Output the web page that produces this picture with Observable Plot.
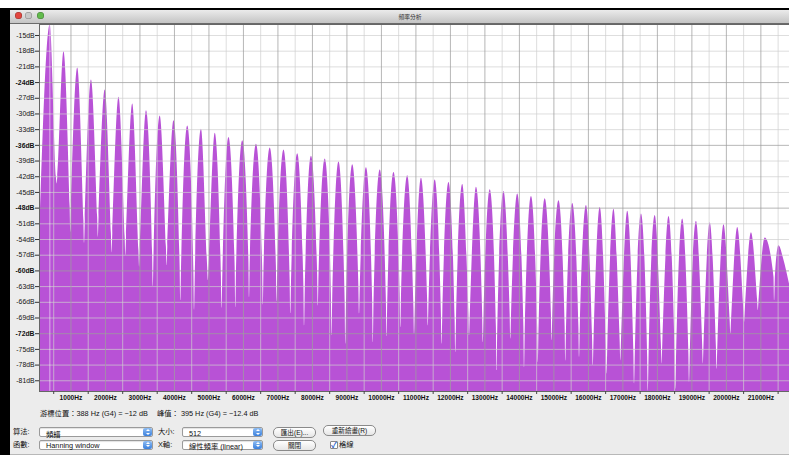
<!DOCTYPE html>
<html>
<head>
<meta charset="utf-8">
<script src="https://cdn.jsdelivr.net/npm/d3@7"></script>
<script src="https://cdn.jsdelivr.net/npm/@observablehq/plot@0.6"></script>
<style>
  html, body { margin:0; padding:0; }
  body { width:789px; height:459px; overflow:hidden; position:relative; background:#fff;
         font-family:"Liberation Sans","Noto Sans CJK TC",sans-serif; color:#111; }
  .abs { position:absolute; }
  #border { left:0; top:8px; width:789px; height:447px; background:#000; }
  #win { left:10px; top:10px; width:779px; height:444px; background:#ececec; border-bottom:1px solid #b8b8b8; }
  #titlebar { left:10px; top:10px; width:779px; height:13px; background:linear-gradient(#ebebeb,#c4c4c4); border-bottom:1px solid #6a6a6a; }
  .light { width:7px; height:7px; border-radius:50%; top:12px; box-shadow: inset 0 0 0 0.5px rgba(0,0,0,0.35); }
  #title { top:12px; left:410px; transform:translateX(-50%); font-size:5.8px; color:#333; white-space:nowrap; font-family:"Noto Sans CJK TC",sans-serif; }
  #chart { left:0; top:23px; }
  .txt { font-size:7.3px; white-space:nowrap; line-height:1; }
  .sel { height:8px; background:#fff; border:1px solid #9a9a9a; border-radius:2px; box-shadow: inset 0 1px 1px rgba(0,0,0,0.12); }
  .sel span { position:absolute; left:6px; top:0.5px; font-size:7.3px; white-space:nowrap; }
  .step { position:absolute; right:0px; top:0px; width:9px; height:8px; border-radius:2px; background:linear-gradient(#8fbef4,#3a7fdc); }
  .up { position:absolute; left:2.5px; top:1px; width:0; height:0; border-left:2px solid transparent; border-right:2px solid transparent; border-bottom:2.3px solid #fff; }
  .dn { position:absolute; left:2.5px; top:4.5px; width:0; height:0; border-left:2px solid transparent; border-right:2px solid transparent; border-top:2.3px solid #fff; }
  .btn { height:9px; border:1px solid #8a8a8a; border-radius:5px; background:linear-gradient(#ffffff,#e6e6e6); font-size:6.6px; text-align:center; line-height:9px; white-space:nowrap; }
  #chk { left:330px; top:441px; width:6px; height:6px; border:1px solid #888; background:#fff; border-radius:1px; }
  #chk span { position:absolute; left:0px; top:-3px; font-size:8px; color:#2b63c6; font-weight:bold; }
</style>
</head>
<body>
<div class="abs" id="border"></div>
<div class="abs" id="win"></div>
<div class="abs" id="titlebar"></div>
<div class="abs light" style="left:15px;background:#e2463f"></div>
<div class="abs light" style="left:25px;background:#c9c9c9"></div>
<div class="abs light" style="left:37px;background:#62bb4c"></div>
<div class="abs" id="title">頻率分析</div>
<div class="abs" id="chart"></div>

<div class="abs txt" style="left:40px;top:409.5px">游標位置：388 Hz (G4) = −12 dB</div>
<div class="abs txt" style="left:157px;top:409.5px">峰值： 395 Hz (G4) = −12.4 dB</div>

<div class="abs txt" style="left:13px;top:428px">算法:</div>
<div class="abs sel" style="left:39px;top:427px;width:112px"><span>頻譜</span><div class="step"><div class="up"></div><div class="dn"></div></div></div>
<div class="abs txt" style="left:158px;top:428px">大小:</div>
<div class="abs sel" style="left:182px;top:427px;width:79px"><span>512</span><div class="step"><div class="up"></div><div class="dn"></div></div></div>
<div class="abs btn" style="left:273px;top:426.5px;width:41px">匯出(E)...</div>
<div class="abs btn" style="left:323px;top:425px;width:51px">重新繪畫(R)</div>

<div class="abs txt" style="left:13px;top:440.5px">函數:</div>
<div class="abs sel" style="left:39px;top:439.5px;width:112px"><span>Hanning window</span><div class="step"><div class="up"></div><div class="dn"></div></div></div>
<div class="abs txt" style="left:158px;top:440.5px">X軸:</div>
<div class="abs sel" style="left:182px;top:439.5px;width:79px"><span>線性頻率 (linear)</span><div class="step"><div class="up"></div><div class="dn"></div></div></div>
<div class="abs btn" style="left:273px;top:440px;width:41px">關閉</div>
<div class="abs" id="chk"><span>✓</span></div>
<div class="abs txt" style="left:339px;top:441px">格線</div>

<script>
// ---- data ----
const peakHz = [399, 797, 1196, 1594, 1993, 2392, 2790, 3189, 3587, 3986,
  4385, 4783, 5182, 5580, 5979, 6378, 6776, 7175, 7573, 7972,
  8371, 8769, 9168, 9566, 9965, 10364, 10762, 11161, 11559, 11958,
  12357, 12755, 13154, 13552, 13951, 14350, 14748, 15147, 15545, 15944,
  16343, 16741, 17140, 17538, 17937, 18336, 18734, 19133, 19531, 19930,
  20329, 20727, 21126, 21524];
const peakDb = [-13.0, -18.1, -21.2, -23.5, -25.4, -26.8, -28.1, -29.4, -30.4, -31.3,
  -32.3, -32.9, -33.7, -34.5, -35.1, -35.8, -36.5, -36.9, -37.6, -38.1,
  -38.6, -39.2, -39.7, -40.3, -40.7, -41.2, -41.8, -42.3, -42.6, -43.1,
  -43.5, -44.0, -44.5, -44.8, -45.3, -45.8, -46.2, -46.6, -47.1, -47.5,
  -47.9, -48.2, -48.6, -49.1, -49.4, -49.6, -50.1, -50.5, -50.8, -51.2,
  -51.7, -52.7, -53.7, -55.2];
const notchHz = [598, 997, 1395, 1794, 2192, 2591, 2990, 3388, 3787, 4185,
  4584, 4983, 5381, 5780, 6178, 6577, 6976, 7374, 7773, 8171,
  8570, 8968, 9367, 9766, 10164, 10563, 10962, 11360, 11759, 12157,
  12556, 12955, 13353, 13752, 14150, 14549, 14948, 15346, 15745, 16143,
  16542, 16940, 17339, 17738, 18136, 18535, 18933, 19332, 19731, 20129,
  20528, 20926, 21400];
const notchDb = [-43.4, -52.6, -54.7, -53.6, -56.6, -57.1, -59.3, -63.0, -59.0, -65.7,
  -67.5, -61.9, -67.1, -67.0, -65.1, -66.5, -65.9, -68.2, -70.5, -66.7,
  -72.4, -74.0, -68.2, -73.7, -72.6, -70.8, -72.1, -70.5, -74.0, -75.6,
  -72.4, -73.7, -79.1, -73.0, -78.5, -77.5, -73.3, -77.2, -76.5, -78.1,
  -79.7, -77.2, -81.6, -83.0, -77.8, -82.6, -81.3, -77.8, -78.8, -72.1,
  -69.8, -67.6, -65.7];
const shoulderDb = [-42.1, -47.8, -50.4, -49.8, -52.9, -53.6, -56.1, -56.8, -55.5, -59.3,
  -60.6, -59.3, -61.0, -59.3, -58.0, -59.3, -59.3, -61.9, -63.1, -60.6,
  -64.4, -65.7, -63.1, -65.7, -65.7, -64.4, -67.0, -65.7, -68.3, -69.5,
  -68.3, -68.3, -70.8, -68.3, -70.8, -70.8, -68.3, -70.8, -70.8, -73.3,
  -74.6, -73.3, -75.9, -76.5, -74.0, -76.5, -75.9, -74.0, -74.6, -69.5,
  -67.6, -65.7, -61.2];
const leftEdgeHz = [88];
const leftEdgeDb = [-55.5];
const rightTailHz = [21660, 21830];
const rightTailDb = [-57.7, -62.5];
const cursorHz = [388];

const yTicks = [-15, -18, -21, -24, -27, -30, -33, -36, -39, -42, -45, -48, -51, -54,
  -57, -60, -63, -66, -69, -72, -75, -78, -81];
const yMajor = [-24, -36, -48, -60, -72];
const xMajor = [1000, 2000, 3000, 4000, 5000, 6000, 7000, 8000, 9000, 10000, 11000,
  12000, 13000, 14000, 15000, 16000, 17000, 18000, 19000, 20000, 21000];
const xMinor = [500, 1500, 2500, 3500, 4500, 5500, 6500, 7500, 8500, 9500, 10500,
  11500, 12500, 13500, 14500, 15500, 16500, 17500, 18500, 19500, 20500, 21500];

// ---- build spectrum polyline ----
const NOTCH_W = 20; // Hz half-width of a notch at its shoulder
const spectrum = [];
leftEdgeHz.forEach((f, i) => spectrum.push({f, db: leftEdgeDb[i]}));
peakHz.forEach((f, i) => {
  spectrum.push({f, db: peakDb[i]});
  if (i < notchHz.length) {
    spectrum.push({f: notchHz[i] - NOTCH_W, db: shoulderDb[i]});
    spectrum.push({f: notchHz[i], db: notchDb[i]});
    spectrum.push({f: notchHz[i] + NOTCH_W, db: shoulderDb[i]});
  }
});
rightTailHz.forEach((f, i) => spectrum.push({f, db: rightTailDb[i]}));

const yMin = -83.05, yMax = -12.9;
const yMinorTicks = yTicks.filter(d => !yMajor.includes(d));

const chart = Plot.plot({
  width: 789,
  height: 389,
  marginLeft: 39,
  marginRight: 0,
  marginTop: 1,
  marginBottom: 21,
  style: {background: "transparent", fontFamily: "'Liberation Sans', sans-serif", color: "#111"},
  x: {domain: [88, 21830], label: null},
  y: {domain: [yMin, yMax], label: null},
  marks: [
    Plot.frame({fill: "#fff", stroke: null}),
    Plot.areaY(spectrum, {x: "f", y1: yMin, y2: "db", fill: "#b852d6", curve: "monotone-x", clip: true}),
    Plot.ruleY(yMinorTicks, {stroke: "#cfcfcf", strokeOpacity: 0.7}),
    Plot.ruleX(xMinor, {stroke: "#cfcfcf", strokeOpacity: 0.7}),
    Plot.ruleY(yMajor, {stroke: "#9d9d9d", strokeOpacity: 0.75}),
    Plot.ruleX(xMajor, {stroke: "#9d9d9d", strokeOpacity: 0.75}),
    Plot.ruleX(cursorHz, {stroke: "#ffffff", strokeOpacity: 0.55, strokeWidth: 1}),
    Plot.frame({stroke: "#666"}),
    Plot.axisY(yMinorTicks, {tickSize: 4, tickPadding: 1, fontSize: 6.8, stroke: "#333",
      tickFormat: d => `${d}dB`, label: null}),
    Plot.axisY(yMajor, {tickSize: 4, tickPadding: 1, fontSize: 6.8, fontWeight: "bold", stroke: "#333",
      tickFormat: d => `${d}dB`, label: null}),
    Plot.axisX(xMajor, {tickSize: 0, tickPadding: 4, fontSize: 6.6, fontWeight: "bold",
      tickFormat: d => `${d}Hz`, label: null}),
    Plot.axisX(xMinor, {tickSize: 3, tickPadding: 0, stroke: "#444", tickFormat: () => "", label: null})
  ]
});
document.getElementById("chart").appendChild(chart);
</script>
</body>
</html>
